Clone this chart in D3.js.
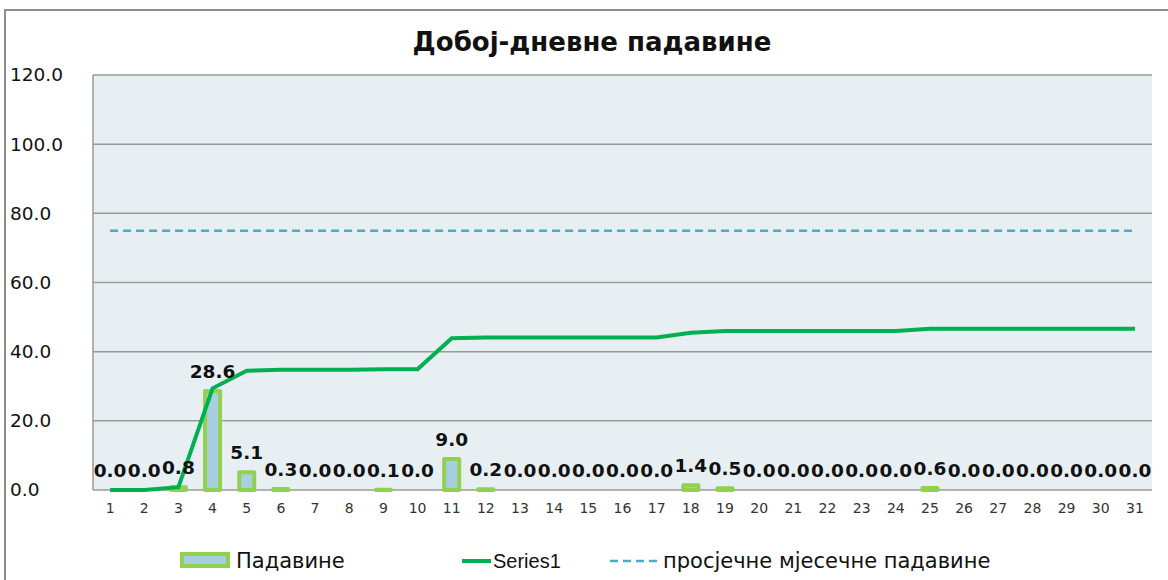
<!DOCTYPE html>
<html>
<head>
<meta charset="utf-8">
<script src="https://cdn.jsdelivr.net/npm/d3@7"></script>
<style>
  body { margin: 0; background: #fff; }
  svg { display: block; }
</style>
</head>
<body>
<script>
// podaci
var days = d3.range(1, 32).map(String);
var padavine = [0.0, 0.0, 0.8, 28.6, 5.1, 0.3, 0.0, 0.0, 0.1, 0.0, 9.0, 0.2, 0.0, 0.0, 0.0, 0.0, 0.0,
    1.4, 0.5, 0.0, 0.0, 0.0, 0.0, 0.0, 0.6, 0.0, 0.0, 0.0, 0.0, 0.0, 0.0];
var series1 = [0.0, 0.0, 0.8, 29.4, 34.5, 34.8, 34.8, 34.8, 34.9, 34.9, 43.9, 44.1, 44.1, 44.1, 44.1, 44.1, 44.1,
    45.5, 46.0, 46.0, 46.0, 46.0, 46.0, 46.0, 46.6, 46.6, 46.6, 46.6, 46.6, 46.6, 46.6];
var prosjek = 75.0;
var yTicks = [0, 20, 40, 60, 80, 100, 120];

(function () {
    var w = 1168, h = 580;
    var pLeft = 93, pRight = 1152, pTop = 75, pBottom = 490;

    var svg = d3.select("body").append("svg").attr("width", w).attr("height", h);

    // okvir
    svg.append("path")
        .attr("d", "M5," + h + "V10H" + w)
        .attr("fill", "none")
        .attr("stroke", "#8c8c8c")
        .attr("stroke-width", 2);

    var x = d3.scaleBand().domain(days).range([pLeft, pRight]);
    var y = d3.scaleLinear().domain([0, 120]).range([pBottom, pTop]);

    svg.append("rect")
        .attr("x", pLeft).attr("y", pTop)
        .attr("width", pRight - pLeft).attr("height", pBottom - pTop)
        .attr("fill", "#e8eff3");

    // mreza
    svg.selectAll("line.grid")
        .data(yTicks)
        .enter()
        .append("line")
        .attr("class", "grid")
        .attr("x1", pLeft).attr("x2", pRight)
        .attr("y1", function (d) { return y(d); })
        .attr("y2", function (d) { return y(d); })
        .attr("stroke", "#9a9a9a")
        .attr("stroke-width", 1.5);

    svg.append("line")
        .attr("x1", pLeft).attr("x2", pLeft)
        .attr("y1", pTop).attr("y2", pBottom)
        .attr("stroke", "#9a9a9a").attr("stroke-width", 1.5);

    // y osa
    var yAxis = d3.axisLeft(y).tickValues(yTicks).tickSize(0).tickPadding(0)
        .tickFormat(d3.format(".1f"));
    var gy = svg.append("g").attr("transform", "translate(10,0)").call(yAxis);
    gy.select(".domain").remove();
    gy.selectAll("text")
        .attr("text-anchor", "start")
        .attr("font-family", "DejaVu Sans")
        .attr("font-size", "18.5px")
        .attr("fill", "#111");

    // x osa
    var xAxis = d3.axisBottom(x).tickSize(0).tickPadding(13);
    var gx = svg.append("g").attr("transform", "translate(0," + pBottom + ")").call(xAxis);
    gx.select(".domain").remove();
    gx.selectAll("text")
        .attr("font-family", "DejaVu Sans")
        .attr("font-size", "14px")
        .attr("fill", "#333");

    // stubci
    var bw = 15;
    svg.selectAll("rect.bar")
        .data(padavine)
        .enter()
        .append("rect")
        .attr("class", "bar")
        .attr("x", function (d, i) { return x(days[i]) + x.bandwidth() / 2 - bw / 2; })
        .attr("y", function (d) { return y(d); })
        .attr("width", bw)
        .attr("height", function (d) { return pBottom - y(d); })
        .attr("fill", "#a8cfe0")
        .attr("stroke", "#92d050")
        .attr("stroke-width", 4)
        .attr("stroke-linejoin", "round");

    // prosjek
    svg.append("line")
        .attr("x1", x(days[0]) + x.bandwidth() / 2)
        .attr("x2", x(days[30]) + x.bandwidth() / 2)
        .attr("y1", y(prosjek)).attr("y2", y(prosjek))
        .attr("stroke", "#4bacc6")
        .attr("stroke-width", 2.5)
        .attr("stroke-dasharray", "8,5");

    // kumulativ
    var line = d3.line()
        .x(function (d, i) { return x(days[i]) + x.bandwidth() / 2; })
        .y(function (d) { return y(d); });
    svg.append("path")
        .datum(series1)
        .attr("d", line)
        .attr("fill", "none")
        .attr("stroke", "#00b050")
        .attr("stroke-width", 4);

    // oznake
    svg.selectAll("text.lbl")
        .data(padavine)
        .enter()
        .append("text")
        .attr("class", "lbl")
        .text(function (d) { return d.toFixed(1); })
        .attr("x", function (d, i) { return x(days[i]) + x.bandwidth() / 2; })
        .attr("y", function (d) { return y(d) - 13; })
        .attr("text-anchor", "middle")
        .attr("font-family", "DejaVu Sans")
        .attr("font-weight", "bold")
        .attr("font-size", "18.5px")
        .attr("fill", "#111");

    // naslov
    svg.append("text")
        .text("Добој-дневне падавине")
        .attr("x", 592).attr("y", 51)
        .attr("text-anchor", "middle")
        .attr("font-family", "DejaVu Sans")
        .attr("font-weight", "bold")
        .attr("font-size", "26px")
        .attr("fill", "#111");

    // legenda
    var lg = svg.append("g").attr("font-family", "DejaVu Sans").attr("font-size", "21px").attr("fill", "#111");
    lg.append("rect").attr("x", 182).attr("y", 554).attr("width", 46).attr("height", 12)
        .attr("fill", "#a8cfe0").attr("stroke", "#92d050").attr("stroke-width", 4);
    lg.append("text").attr("x", 236).attr("y", 568).text("Падавине");
    lg.append("line").attr("x1", 462).attr("x2", 491).attr("y1", 561).attr("y2", 561)
        .attr("stroke", "#00b050").attr("stroke-width", 4);
    lg.append("text").attr("x", 493).attr("y", 568)
        .attr("font-family", "Liberation Sans, sans-serif").attr("font-size", "20px").text("Series1");
    lg.append("line").attr("x1", 610).attr("x2", 657).attr("y1", 561).attr("y2", 561)
        .attr("stroke", "#4bacc6").attr("stroke-width", 2.5).attr("stroke-dasharray", "8,5");
    lg.append("text").attr("x", 663).attr("y", 568).text("просјечне мјесечне падавине");
})();
</script>
</body>
</html>
